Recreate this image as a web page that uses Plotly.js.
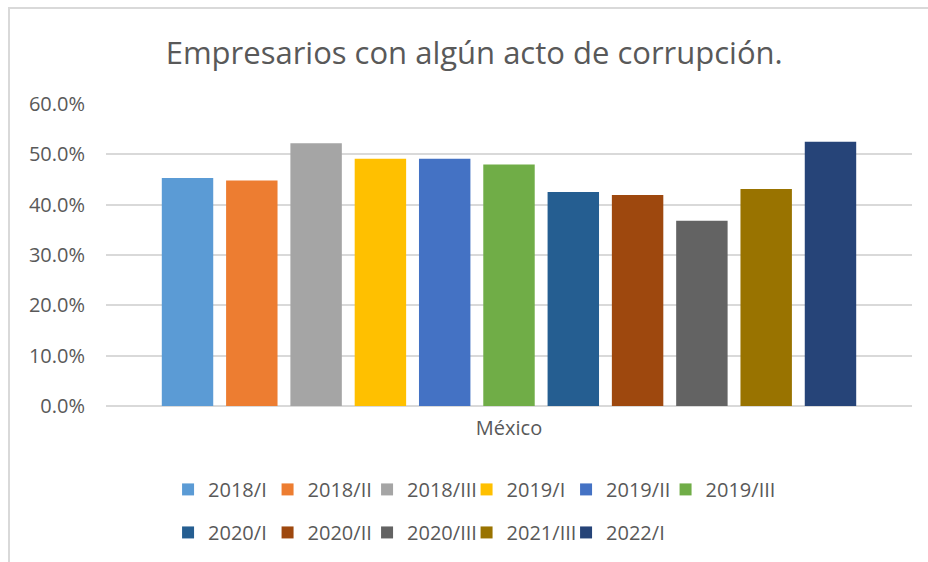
<!DOCTYPE html>
<html>
<head>
<meta charset="utf-8">
<script src="https://cdn.plot.ly/plotly-3.0.1.min.js"></script>
<style>
  html, body { margin:0; padding:0; background:#fff; overflow:hidden; }
  #frame { position:absolute; left:8px; top:7px; width:1000px; height:700px; border:2px solid #d9d9d9; box-sizing:border-box; }
  #chart { position:absolute; left:0; top:0; width:928px; height:562px; }
</style>
</head>
<body>
<div id="frame"></div>
<div id="chart"></div>
<script>
// ---------- Data ----------
const category = ['México'];
const periods = ['2018/I','2018/II','2018/III','2019/I','2019/II','2019/III',
                 '2020/I','2020/II','2020/III','2021/III','2022/I'];
const values = [0.453, 0.448, 0.522, 0.491, 0.491, 0.480,
                0.425, 0.419, 0.368, 0.431, 0.525];
const colors = ['#5B9BD5','#ED7D31','#A5A5A5','#FFC000','#4472C4','#70AD47',
                '#255E91','#9E480E','#636363','#997300','#264478'];
const yTicks = [0, 0.1, 0.2, 0.3, 0.4, 0.5, 0.6];

const FONT = 'Open Sans, Liberation Sans, sans-serif';
const GREY = '#595959';

// ---------- Traces ----------
const traces = periods.map((p,i)=>({
    type:'bar',
    name:p,
    x:category,
    y:[values[i]],
    marker:{color:colors[i], line:{width:0}},
    legend: i<6 ? 'legend' : 'legend2',
    hoverinfo:'name+y'
}));

// invisible spacer entries so the last legend label of each row isn't clipped
['legend','legend2'].forEach(lg=>traces.push({
    type:'scatter', mode:'markers', x:[null], y:[null], name:' ',
    marker:{color:'rgba(0,0,0,0)', size:1, line:{width:0}},
    legend:lg, hoverinfo:'skip'
}));

const legendBase = {
    orientation:'h',
    xanchor:'left', yanchor:'middle',
    font:{family:FONT, size:20, color:GREY},
    entrywidth:54.5, entrywidthmode:'pixels',
    itemwidth:30,
    bgcolor:'rgba(0,0,0,0)',
    traceorder:'normal'
};

const layout = {
    width:928, height:562,
    paper_bgcolor:'rgba(0,0,0,0)',
    plot_bgcolor:'rgba(0,0,0,0)',
    margin:{l:106, r:16, t:104, b:155},
    title:{
        text:'Empresarios con algún acto de corrupción.',
        font:{family:FONT, size:31, color:GREY},
        x:0.511, xanchor:'center',
        y:1-53/562, yanchor:'middle', yref:'container'
    },
    barmode:'group',
    bargap:0.1225,
    bargroupgap:0.2,
    xaxis:{
        type:'category',
        tickfont:{family:FONT, size:20, color:GREY},
        showgrid:false, showline:false, zeroline:false,
        ticks:'', ticklabelstandoff:8
    },
    yaxis:{
        range:[0,0.6],
        tickvals:yTicks,
        tickformat:'.1%',
        tickfont:{family:FONT, size:20, color:GREY},
        showgrid:true, gridcolor:'#d9d9d9', gridwidth:2,
        zeroline:true, zerolinecolor:'#d9d9d9', zerolinewidth:2,
        showline:false, ticks:'', ticklabelstandoff:20
    },
    legend:Object.assign({}, legendBase, {x:0.077, y:-0.272}),
    legend2:Object.assign({}, legendBase, {x:0.077, y:-0.414}),
    showlegend:true
};

Plotly.newPlot('chart', traces, layout, {displayModeBar:false, staticPlot:true});
</script>
</body>
</html>
